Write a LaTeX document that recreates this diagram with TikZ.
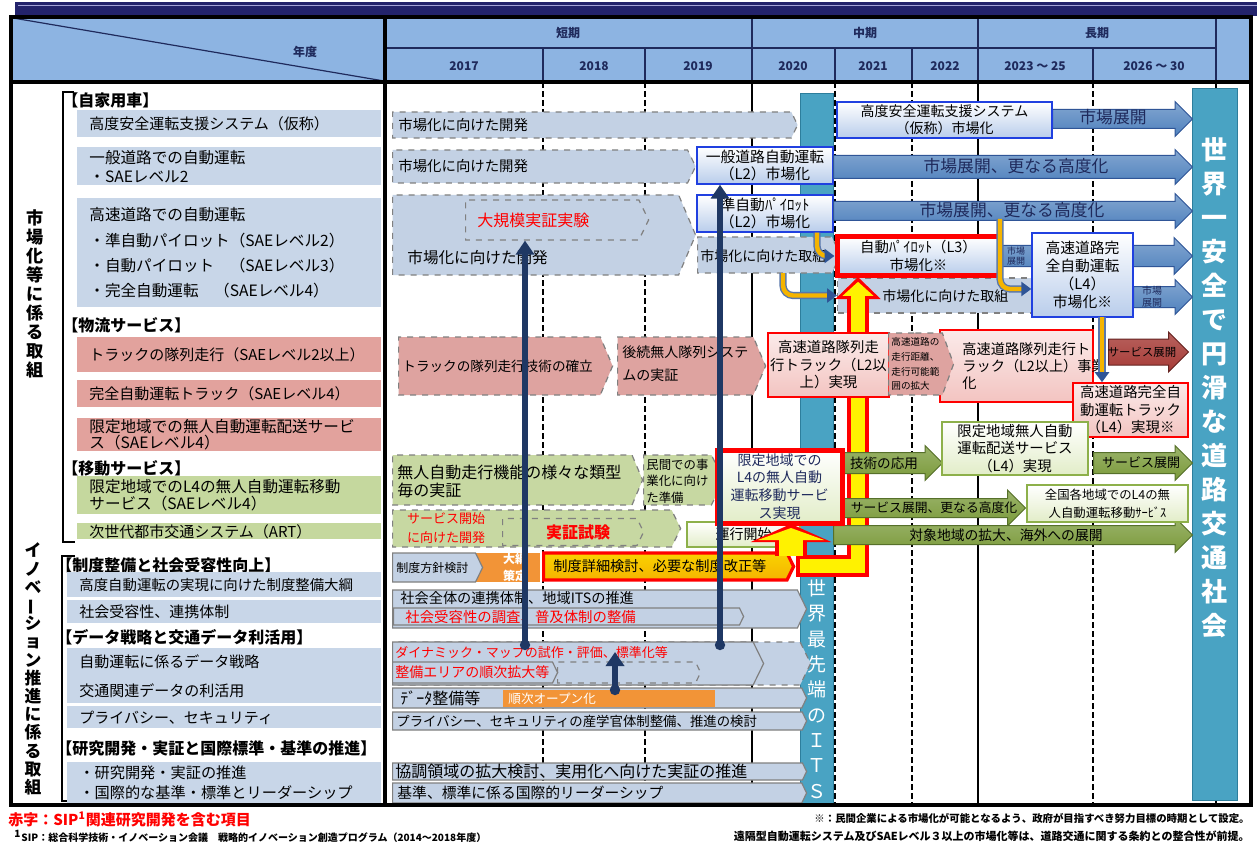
\documentclass[tikz,border=0pt]{standalone}
\usepackage{fontspec}
\setmainfont{Noto Sans CJK JP}
\usetikzlibrary{shapes.symbols,shapes.arrows,arrows.meta,positioning}

\definecolor{navy}{HTML}{23236B}
\definecolor{barline}{HTML}{A3A3D6}
\definecolor{headfill}{HTML}{8DB4E2}
\definecolor{headtxt}{HTML}{1F2A5C}
\definecolor{rowblue}{HTML}{C8D6E8}
\definecolor{rowred}{HTML}{E2A29D}
\definecolor{rowgreen}{HTML}{C5D89E}
\definecolor{chevblue}{HTML}{C3D1E4}
\definecolor{chevred}{HTML}{DEA3A0}
\definecolor{chevgreen}{HTML}{C7D8A2}
\definecolor{arrblue}{HTML}{4F81BD}
\definecolor{arrdark}{HTML}{2F5597}
\definecolor{boxedge}{HTML}{2040E0}
\definecolor{boxfill}{HTML}{B9CDEB}
\definecolor{pillar}{HTML}{49A3C3}
\definecolor{pillaredge}{HTML}{2D7E9C}
\definecolor{navyline}{HTML}{1F3864}
\definecolor{gold}{HTML}{F5B400}
\definecolor{orng}{HTML}{F29437}
\definecolor{pinkfill}{HTML}{F3C4C1}
\definecolor{greenfill}{HTML}{E2EDC8}
\definecolor{greenedge}{HTML}{8DB04A}
\definecolor{grnarr}{HTML}{7A9A3A}
\definecolor{grnarrdark}{HTML}{56702A}
\definecolor{darkred}{HTML}{A63A36}

\tikzset{
  hdtxt/.style={inner sep=0pt, text=headtxt, font=\bfseries\fontsize{6}{7}\selectfont},
  hdline/.style={draw=headtxt, line width=0.6pt},
  gridd/.style={line width=0.6pt, dash pattern=on 3pt off 1.5pt},
  grids/.style={line width=0.6pt},
  frame/.style={line width=1.6pt},
  brk/.style={line width=0.9pt},
  lrow/.style={rectangle, anchor=north west, inner xsep=6pt, inner ysep=0pt, fill=rowblue,
    text width=140pt, align=left, font=\fontsize{7.5}{9}\selectfont},
  lhead/.style={anchor=west, inner sep=0pt, font=\bfseries\fontsize{8}{9}\selectfont},
  vtxt/.style={align=center, inner sep=0pt, font=\bfseries\fontsize{8.6}{9.5}\selectfont},
  chev/.style={signal, signal to=east, signal pointer angle=128, anchor=west, inner sep=0pt,
    fill=chevblue, draw=gray, dashed, line width=0.6pt},
  tl/.style={anchor=west, inner sep=0pt, align=left, font=\fontsize{7.2}{9}\selectfont},
  bbox/.style={rectangle, inner sep=1pt, align=center, top color=white, bottom color=boxfill,
    draw=boxedge, line width=0.7pt, font=\fontsize{7.2}{8.6}\selectfont},
  rbox/.style={rectangle, inner sep=1pt, align=center, top color=pinkfill!35, bottom color=pinkfill,
    draw=red, line width=0.8pt, font=\fontsize{7.2}{8.8}\selectfont},
  gbox/.style={rectangle, inner sep=1pt, align=center, top color=white, bottom color=greenfill,
    draw=greenedge, line width=0.8pt, font=\fontsize{7.2}{8.8}\selectfont},
  bluearr/.style={single arrow, anchor=tail, inner xsep=0pt, single arrow head extend=4pt,
    top color=arrblue!70, bottom color=arrblue, draw=arrdark, line width=0.5pt},
  greenarrow/.style={bluearr, top color=grnarr!75, bottom color=grnarr, draw=grnarrdark},
  arrtxt/.style={inner sep=0pt, text=headtxt, font=\fontsize{8.4}{9}\selectfont},
  navyarr/.style={draw=navyline, line width=2.6pt, arrows={Circle[length=5pt]}-{Triangle[length=7pt,width=9pt]}},
  goldarr/.style={draw=gold, line width=2.2pt, rounded corners=5pt,
    arrows=-{Triangle[length=5pt,width=7pt,color=arrdark]},
    preaction={draw=arrdark!80, line width=3.6pt, arrows=-, shorten >=3pt}},
  yelred/.style={draw=red, line width=11pt, arrows=-{Triangle[length=11pt,width=22pt]}},
  yelfill/.style={draw=yellow, line width=7pt, shorten >=2.4pt, shorten <=1.8pt,
    arrows=-{Triangle[length=7pt,width=15pt]}},
  pillarbar/.style={rectangle, anchor=north west, inner sep=0pt, fill=pillar, draw=pillaredge, line width=0.6pt},
  ptxt/.style={align=center, inner sep=0pt, text=white},
  note/.style={inner sep=0pt, font=\bfseries\fontsize{5}{6}\selectfont}
}

\begin{document}
\begin{tikzpicture}[x=0.5pt,y=-0.5pt]
\useasboundingbox (0,0) rectangle (1257,845);
\fill[white] (0,0) rectangle (1257,845);
\fill[navy] (15,2) rectangle (1257,16);
\draw[barline, line width=0.9pt] (18,5.5) -- (1257,5.5);
\fill[headfill] (11,17) rectangle (1251,82);
\draw[hdline] (13,18) -- (384,81);
\draw[hdline] (385,48) -- (1216,48);
\foreach \x in {752,978,1216} \draw[hdline] (\x,17) -- (\x,82);
\foreach \x in {543,645,835,912,1093} \draw[hdline] (\x,48) -- (\x,82);
\node[hdtxt] (nendo) at (305,52) {年度};
\node[hdtxt] (short) at (568,33) {短期};
\node[hdtxt] (middle) at (865,33) {中期};
\node[hdtxt] (long) at (1097,33) {長期};
\node[hdtxt] (y17) at (464,66) {2017};
\node[hdtxt] (y18) at (594,66) {2018};
\node[hdtxt] (y19) at (698,66) {2019};
\node[hdtxt] (y20) at (793,66) {2020};
\node[hdtxt] (y21) at (873,66) {2021};
\node[hdtxt] (y22) at (945,66) {2022};
\node[hdtxt] (y23) at (1035,66) {2023 ～ 25};
\node[hdtxt] (y26) at (1154,66) {2026 ～ 30};

\foreach \x in {543,645,835,912,1093} \draw[gridd] (\x,82) -- (\x,805);
\foreach \x in {752,978,1216} \draw[grids] (\x,82) -- (\x,805);

\node[vtxt] (vmarket) at (35,294) {市\\場\\化\\等\\に\\係\\る\\取\\組};
\node[vtxt, font=\bfseries\fontsize{8.4}{9.1}\selectfont] (vinno) at (33,669) {イ\\ノ\\ベ\\\rotatebox[origin=c]{90}{ー}\\シ\\ョ\\ン\\推\\進\\に\\係\\る\\取\\組};
\draw[brk] (74,92) -- (63,92) -- (63,542) -- (75,542);
\draw[brk] (75,556) -- (62,556) -- (62,801) -- (73,801);

\node[lhead] (hcar) at (62,100) {【自家用車】};
\node[lrow, minimum height=13.5pt] (rsys) at (77,110) {高度安全運転支援システム（仮称）};
\node[lrow, minimum height=19pt, font=\fontsize{7.8}{9.3}\selectfont] (rgen) at (77,147) {一般道路での自動運転\\・SAEレベル2};
\node[lrow, minimum height=54.5pt, font=\fontsize{7.8}{12.7}\selectfont] (rhwy) at (77,198) {高速道路での自動運転\\・準自動パイロット（SAEレベル2）\\・自動パイロット　（SAEレベル3）\\・完全自動運転　（SAEレベル4）};
\node[lhead] (hlog) at (62,325) {【物流サービス】};
\node[lrow, fill=rowred, minimum height=17.5pt] (rtrk) at (77,337) {トラックの隊列走行（SAEレベル2以上）};
\node[lrow, fill=rowred, minimum height=13.5pt] (rtrk4) at (77,380) {完全自動運転トラック（SAEレベル4）};
\node[lrow, fill=rowred, minimum height=16.5pt, font=\fontsize{7.8}{7.8}\selectfont] (rdel) at (77,418) {限定地域での無人自動運転配送サービ\\ス（SAEレベル4）};
\node[lhead] (hmob) at (62,468) {【移動サービス】};
\node[lrow, fill=rowgreen, minimum height=19pt, font=\fontsize{7.8}{8.6}\selectfont] (rmob) at (77,476) {限定地域でのL4の無人自動運転移動\\サービス（SAEレベル4）};
\node[lrow, fill=rowgreen, minimum height=8pt] (rart) at (77,523) {次世代都市交通システム（ART）};

\node[lhead] (hsys) at (56,565) {【制度整備と社会受容性向上】};
\node[lrow, text width=145pt, minimum height=12.5pt, font=\fontsize{7.2}{9}\selectfont] (rlaw) at (67,572) {高度自動運転の実現に向けた制度整備大綱};
\node[lrow, text width=145pt, minimum height=11.5pt] (racc) at (67,600) {社会受容性、連携体制};
\node[lhead] (hdat) at (56,637) {【データ戦略と交通データ利活用】};
\node[lrow, text width=145pt, minimum height=27.5pt, font=\fontsize{7.5}{14.5}\selectfont] (rdata) at (67,648) {自動運転に係るデータ戦略\\交通関連データの利活用};
\node[lrow, text width=145pt, minimum height=11pt] (rpriv) at (67,706) {プライバシー、セキュリティ};
\node[lhead] (hres) at (56,748) {【研究開発・実証と国際標準・基準の推進】};
\node[lrow, text width=145pt, minimum height=20.5pt, font=\fontsize{7.6}{10}\selectfont] (rres) at (67,762) {・研究開発・実証の推進\\・国際的な基準・標準とリーダーシップ};

\node[pillarbar, minimum width=16.5pt, minimum height=356pt] (its) at (800,93) {};
\node[pillarbar, minimum width=22.5pt, minimum height=356pt] (goal) at (1192,88) {};
\node[ptxt, font=\fontsize{9.5}{12.65}\selectfont] (itstxt) at (817,689) {世\\界\\最\\先\\端\\の\\Ｉ\\Ｔ\\Ｓ};
\node[ptxt, font=\bfseries\fontsize{13}{17}\selectfont] (goaltxt) at (1214.5,388) {世\\界\\一\\安\\全\\で\\円\\滑\\な\\道\\路\\交\\通\\社\\会};

\node[chev, minimum width=202.5pt, minimum height=13pt] (dev1) at (392,125) {};
\node[chev, minimum width=151.5pt, minimum height=16.5pt] (dev2) at (392,166.5) {};
\node[chev, minimum width=151.5pt, minimum height=40pt, signal pointer angle=134] (dev3) at (392,235) {};
\node[chev, minimum width=91.5pt, minimum height=20pt] (demo) at (465,220) {};
\node[bbox, minimum width=68pt, minimum height=18.5pt, font=\fontsize{7.4}{8.6}\selectfont] (l2gen) at (765,165.5) {一般道路自動運転\\（L2）市場化};
\node[bbox, minimum width=68pt, minimum height=18.5pt, font=\fontsize{7.4}{8.6}\selectfont] (pilot2) at (765,213.5) {準自動ﾊﾟｲﾛｯﾄ\\（L2）市場化};
\node[chev, minimum width=71.5pt, minimum height=18pt] (dev4) at (697,255) {};
\node[chev, rectangle, minimum width=101.5pt, minimum height=17.5pt] (dev5) at (837,295.5) {};

\node[chev, fill=chevred, minimum width=107pt, minimum height=29pt, signal pointer angle=134] (plat1) at (398,366) {};
\node[chev, fill=chevred, minimum width=74pt, minimum height=29pt, signal pointer angle=134] (plat2) at (617,366) {};

\node[chev, fill=chevgreen, minimum width=125pt, minimum height=25pt, signal pointer angle=134] (mob1) at (392,480) {};
\node[chev, fill=chevgreen, minimum width=40pt, minimum height=25pt] (mob2) at (643,480) {};
\node[chev, fill=chevgreen, minimum width=144pt, minimum height=18.5pt] (art1) at (392,528.5) {};
\node[chev, fill=chevgreen, minimum width=70.5pt, minimum height=13.5pt] (art2) at (502,532) {};
\node[gbox, minimum width=56.5pt, minimum height=12.5pt, font=\fontsize{7}{8}\selectfont] (run) at (743.5,534.5) {運行開始};

\node[rectangle, fill=orng, anchor=west, minimum width=35pt, minimum height=14.5pt, inner sep=0pt] (pol2) at (470,567.5) {};
\node[chev, solid, minimum width=45pt, minimum height=14.5pt] (pol1) at (392,567.5) {};
\node[chev, solid, top color=gold!60!yellow, bottom color=gold, draw=red, line width=1.6pt, minimum width=125pt, minimum height=13.5pt] (pol3) at (542,566.5) {};
\node[chev, solid, minimum width=207pt, minimum height=19pt] (soc1) at (392,609) {};
\node[chev, solid, minimum width=175pt, minimum height=8.5pt] (soc2) at (393,616.5) {};
\node[chev, minimum width=209pt, minimum height=21.5pt] (dm0) at (392,663.5) {};
\node[chev, solid, minimum width=185.5pt, minimum height=21.5pt] (dm1) at (392,663.5) {};
\node[chev, minimum width=71.5pt, minimum height=10.5pt] (dm3) at (557,672.5) {};
\node[chev, solid, minimum width=82.5pt, minimum height=10.5pt] (dm2) at (392,672.5) {};
\node[chev, solid, minimum width=207pt, minimum height=10pt] (dat) at (392,698) {};
\node[rectangle, fill=orng, anchor=west, minimum width=106pt, minimum height=8.5pt, inner sep=0pt] (open) at (503,698.5) {};
\node[chev, solid, minimum width=207pt, minimum height=9pt] (priv) at (392,721) {};
\node[chev, solid, minimum width=207pt, minimum height=8.5pt] (res1) at (392,771.5) {};
\node[chev, solid, minimum width=207pt, minimum height=10pt] (res2) at (392,793) {};

\coordinate (yfoot) at (796,566);
\coordinate (ytop) at (858,277);
\coordinate (ybr) at (791,556);
\coordinate (ybt) at (791,524);
\draw[yelred] (yfoot) -| (ytop);
\draw[yelred, line width=16pt, arrows=-{Triangle[length=9pt,width=40pt]}] (ybr) -- (ybt);
\draw[yelfill] (yfoot) -| (ytop);
\draw[yelfill, line width=12pt, shorten <=0pt, shorten >=2pt, arrows=-{Triangle[length=6pt,width=33pt]}] (ybr) -- (ybt);

\node[bluearr, minimum height=70pt, inner ysep=4.5pt] (mk1) at (1052,119) {};
\node[bluearr, minimum height=179.5pt, inner ysep=5.5pt, single arrow head extend=3pt] (mk2) at (833,167) {};
\node[bluearr, minimum height=179.5pt, inner ysep=4.5pt] (mk3) at (833,211) {};
\node[bluearr, minimum height=96pt, inner ysep=5pt] (mk4) at (1000,256) {};
\node[bluearr, minimum height=29.5pt, inner ysep=5pt, single arrow head extend=3.5pt] (mk5) at (1133,297) {};
\node[bluearr, top color=darkred!80, bottom color=darkred, draw=darkred!60!black, minimum height=40pt, inner ysep=6.25pt, single arrow head extend=3.5pt] (svc1) at (1108,352) {};
\node[greenarrow, minimum height=49.5pt, inner ysep=5pt, single arrow head extend=3.5pt] (tech) at (843,463) {};
\node[greenarrow, minimum height=49.5pt, inner ysep=5pt, single arrow head extend=3.5pt] (svc2) at (1093,463) {};
\node[greenarrow, minimum height=91pt, inner ysep=4.5pt, single arrow head extend=4.25pt] (mobx) at (843,508) {};
\node[greenarrow, minimum height=179.5pt, inner ysep=4.5pt] (abroad) at (833,535) {};

\node[bbox, minimum width=107.5pt, minimum height=18pt, font=\fontsize{7}{8.6}\selectfont] (adas) at (944.5,120) {高度安全運転支援システム\\（仮称）市場化};
\node[bbox, draw=red, line width=2.5pt, minimum width=81.5pt, minimum height=19pt] (l3) at (918.5,256) {自動ﾊﾟｲﾛｯﾄ（L3）\\市場化※};
\node[bbox, minimum width=50.5pt, minimum height=42pt, font=\fontsize{7.4}{9}\selectfont] (l4) at (1082.5,275) {高速道路完\\全自動運転\\（L4）\\市場化※};
\node[rbox, minimum width=58.5pt, minimum height=32pt] (plat3) at (828.5,365) {高速道路隊列走\\行トラック（L2以\\上）実現};
\node[rbox, line width=0.6pt, minimum width=76.5pt, minimum height=36pt] (plat5) at (1016.5,366) {};
\node[chev, fill=chevred, minimum width=32.5pt, minimum height=31pt, signal pointer angle=140] (plat4) at (888,364) {};
\node[rbox, minimum width=57.5pt, minimum height=27pt] (truck4) at (1130.5,410) {高速道路完全自\\動運転トラック\\（L4）実現※};
\node[gbox, minimum width=73pt, minimum height=26.5pt] (deliv) at (1015,448.5) {限定地域無人自動\\運転配送サービス\\（L4）実現};
\node[gbox, draw=red, line width=2.5pt, minimum width=62.5pt, minimum height=36.5pt, font=\fontsize{7}{8.8}\selectfont, text=headtxt] (mobL4) at (779.5,486.5) {限定地域での\\L4の無人自動\\運転移動サービ\\ス実現};
\node[gbox, minimum width=80.5pt, minimum height=18.5pt, font=\fontsize{6.2}{9}\selectfont] (nation) at (1107.5,503.5) {全国各地域でのL4の無\\人自動運転移動ｻｰﾋﾞｽ};

\node[tl] (dev1t) at (398,125) {市場化に向けた開発};
\node[tl] (dev2t) at (398,166.5) {市場化に向けた開発};
\node[tl, font=\fontsize{7.8}{9}\selectfont] (dev3t) at (407,258) {市場化に向けた開発};
\node[tl, text=red, font=\fontsize{8}{9}\selectfont] (demot) at (477,220) {大規模実証実験};
\node[tl, font=\fontsize{7}{8}\selectfont] (dev4t) at (700,256) {市場化に向けた取組};
\node[tl, font=\fontsize{7}{8}\selectfont] (dev5t) at (882,296) {市場化に向けた取組};
\node[tl, font=\fontsize{6.8}{8}\selectfont] (plat1t) at (402,366) {トラックの隊列走行技術の確立};
\node[tl, font=\fontsize{7}{11.5}\selectfont] (plat2t) at (622,364) {後続無人隊列システ\\ムの実証};
\node[tl, font=\fontsize{4.8}{7.4}\selectfont] (plat4t) at (891,364) {高速道路の\\走行距離、\\走行可能範\\囲の拡大};
\node[tl, font=\fontsize{7.1}{8.5}\selectfont] (plat5t) at (962,366) {高速道路隊列走行ト\\ラック（L2以上）事業\\化};
\node[tl, font=\fontsize{8}{9}\selectfont] (mob1t) at (397,481) {無人自動走行機能の様々な類型\\毎の実証};
\node[tl, font=\fontsize{6.2}{8.2}\selectfont] (mob2t) at (646,481) {民間での事\\業化に向け\\た準備};
\node[tl, anchor=center, align=center, text=red, font=\fontsize{6.5}{9.5}\selectfont] (art1t) at (446,528) {サービス開始\\に向けた開発};
\node[tl, anchor=center, text=red, font=\bfseries\fontsize{8}{9}\selectfont] (art2t) at (578,532) {実証試験};
\node[tl, font=\fontsize{6}{7}\selectfont] (pol1t) at (396,567.5) {制度方針検討};
\node[tl, anchor=center, align=center, text=white, font=\bfseries\fontsize{6}{8.5}\selectfont] (pol2t) at (515,567.5) {大綱\\策定};
\node[tl, font=\fontsize{7.1}{8}\selectfont] (pol3t) at (553,566.5) {制度詳細検討、必要な制度改正等};
\node[tl, font=\fontsize{7.1}{8}\selectfont] (soc1t) at (400,598) {社会全体の連携体制、地域ITSの推進};
\node[tl, text=red, font=\fontsize{7.2}{8}\selectfont] (soc2t) at (405,617) {社会受容性の調査、普及体制の整備};
\node[tl, text=red, font=\fontsize{6.5}{8}\selectfont] (dm1t) at (395,653) {ダイナミック・マップの試作・評価、標準化等};
\node[tl, text=red, font=\fontsize{7}{8}\selectfont] (dm2t) at (395,672.5) {整備エリアの順次拡大等};
\node[tl, font=\fontsize{8}{9}\selectfont] (datt) at (400,698) {ﾃﾞｰﾀ整備等};
\node[tl, text=white, font=\fontsize{6.3}{7}\selectfont] (opent) at (508,698.5) {順次オープン化};
\node[tl, font=\fontsize{6.7}{8}\selectfont] (privt) at (396,721) {プライバシー、セキュリティの産学官体制整備、推進の検討};
\node[tl, font=\fontsize{8}{9}\selectfont] (res1t) at (395,771.5) {協調領域の拡大検討、実用化へ向けた実証の推進};
\node[tl, font=\fontsize{7.4}{8}\selectfont] (res2t) at (397,793) {基準、標準に係る国際的リーダーシップ};

\node[arrtxt] (mk1t) at (1113,117) {市場展開};
\node[arrtxt] (mk2t) at (1016,166) {市場展開、更なる高度化};
\node[arrtxt] (mk3t) at (1012,210) {市場展開、更なる高度化};
\node[arrtxt, align=center, font=\fontsize{4.5}{5}\selectfont] (mk4t) at (1016,256) {市場\\展開};
\node[arrtxt, align=center, font=\fontsize{5}{6}\selectfont] (mk5t) at (1152,297) {市場\\展開};
\node[arrtxt, text=black, font=\fontsize{5.7}{6}\selectfont] (svc1t) at (1142,352) {サービス展開};
\node[arrtxt, text=black, font=\fontsize{6.8}{7}\selectfont] (techt) at (884,463) {技術の応用};
\node[arrtxt, text=black, font=\fontsize{6.5}{7}\selectfont] (svc2t) at (1141,463) {サービス展開};
\node[arrtxt, text=black, font=\fontsize{6.4}{7}\selectfont] (mobxt) at (934,508) {サービス展開、更なる高度化};
\node[arrtxt, text=black, font=\fontsize{6.9}{7}\selectfont] (abroadt) at (1006,535) {対象地域の拡大、海外への展開};

\coordinate (o2s) at (783,273);
\coordinate (o3s) at (1000,219);
\coordinate (o4s) at (1102,317);
\draw[goldarr] ([xshift=26pt]pilot2.south) |- (l3.west);
\draw[goldarr] (o2s) |- (dev5.west);
\draw[goldarr] (o3s) |- ([yshift=-7pt]l4.west);
\draw[goldarr] (o4s) -- (o4s |- truck4.north);

\coordinate (dmA) at (525,650);
\coordinate (dmB) at (720,650);
\coordinate (datC) at (615,695);
\coordinate (dmC) at (615,652);
\draw[navyarr] (dmA) -- (dmA |- demo.south);
\draw[navyarr] (dmB) -- (dmB |- l2gen.south);
\draw[navyarr] (datC) -- (dmC);

\draw[frame] (11,17) rectangle (1251,805);
\draw[frame] (385,17) -- (385,805);
\draw[frame] (11,82) -- (1251,82);

\node[note, anchor=west, text=red, font=\bfseries\fontsize{7.5}{8}\selectfont] (redkey) at (8,819) {赤字：SIP\textsuperscript{1}関連研究開発を含む項目};
\node[note, anchor=west] (sipkey) at (14,836) {\textsuperscript{1}SIP：総合科学技術・イノベーション会議　戦略的イノベーション創造プログラム（2014〜2018年度）};
\node[note, anchor=east, font=\bfseries\fontsize{5.2}{6}\selectfont] (remark1) at (1250,818) {※：民間企業による市場化が可能となるよう、政府が目指すべき努力目標の時期として設定。};
\node[note, anchor=east, font=\bfseries\fontsize{5.5}{6}\selectfont] (remark2) at (1250,836) {遠隔型自動運転システム及びSAEレベル３以上の市場化等は、道路交通に関する条約との整合性が前提。};
\end{tikzpicture}
\end{document}
